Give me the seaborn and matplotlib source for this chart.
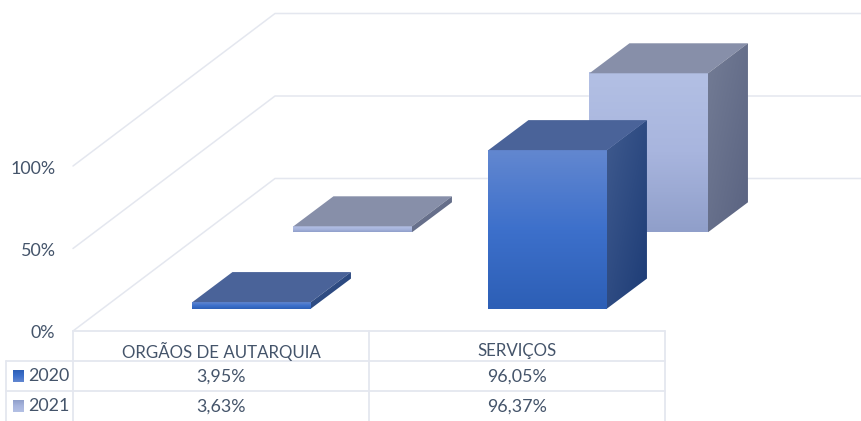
import numpy as np
import pandas as pd
import matplotlib
matplotlib.use('Agg')
import matplotlib.pyplot as plt
import seaborn as sns
from matplotlib.colors import LinearSegmentedColormap
from matplotlib.patches import Polygon

categories = ['ORGÃOS DE AUTARQUIA', 'SERVIÇOS']
series_names = ['2020', '2021']
values_2020 = [3.95, 96.05]
values_2021 = [3.63, 96.37]
tick_values = [0, 50, 100]

sns.set_style('white')
plt.rcParams['font.family'] = ['Lato', 'DejaVu Sans']

W, H = 862, 421
TXT = '#44546a'
GRID = '#e4e7ef'
PX_PER_PCT = 1.65
SLOT = 296
BAR_W = 118.5
DEPTH_X, DEPTH_Y = 40, 30

front_2020 = LinearSegmentedColormap.from_list('f20', ['#6287d0', '#3d70cb', '#2d5fb6'])
side_2020 = LinearSegmentedColormap.from_list('s20', ['#3f5a8e', '#1d3c76'])
front_2021 = LinearSegmentedColormap.from_list('f21', ['#b3c0e4', '#a8b5de', '#909fca'])
side_2021 = LinearSegmentedColormap.from_list('s21', ['#737c95', '#5a6381'])
gradient = np.linspace(0, 1, 64).reshape(-1, 1)
diag = np.add.outer(np.linspace(0, 1, 64), np.linspace(0, 1, 64)) / 2

fig = plt.figure(figsize=(W / 100, H / 100), dpi=100)

# pixel axes for the walls and the table
base = fig.add_axes([0, 0, 1, 1])
base.set_xlim(0, W)
base.set_ylim(H, 0)
base.axis('off')

for t in tick_values:
    y_back = 178.5 - t * PX_PER_PCT
    y_front = 331 - t * PX_PER_PCT
    base.plot([73, 275, W], [y_front, y_back, y_back], color=GRID, lw=1.1)
    base.text(55.5, y_front + 2.5, f'{t}%', ha='right', va='center', color=TXT, fontsize=12.9)


def draw_series(values, x0, y0, front, side, top_color, z):
    ax = fig.add_axes([0, 0, 1, 1], zorder=z)
    ax.patch.set_alpha(0)
    df = pd.DataFrame({'cat': categories, 'val': values})
    sns.barplot(data=df, x='cat', y='val', ax=ax, width=BAR_W / SLOT, color='#4472c4', saturation=1)
    dx = DEPTH_X / SLOT
    dy = DEPTH_Y / PX_PER_PCT
    for bar in list(ax.patches):
        l, b = bar.get_x(), 0
        r, t = l + bar.get_width(), bar.get_height()
        ax.imshow(gradient, cmap=front, extent=(l, r, b, t), aspect='auto', origin='upper', zorder=3)
        ax.add_patch(Polygon([(l, t), (r, t), (r + dx, t + dy), (l + dx, t + dy)], fc=top_color, ec='none', zorder=4))
        side_poly = Polygon([(r, b), (r + dx, b + dy), (r + dx, t + dy), (r, t)], fc='none', ec='none', zorder=4)
        ax.add_patch(side_poly)
        im = ax.imshow(diag, cmap=side, extent=(r, r + dx, b, t + dy), aspect='auto', origin='upper', zorder=4)
        im.set_clip_path(side_poly)
    # one scale per series: category slots and percent to figure position
    ax.set_xlim(-x0 / SLOT, (W - x0) / SLOT)
    ax.set_ylim(-(H - y0) / PX_PER_PCT, y0 / PX_PER_PCT)
    ax.axis('off')
    return ax


draw_series(values_2021, 352.7, 232.3, front_2021, side_2021, '#878fa9', 2)
draw_series(values_2020, 251.7, 308.6, front_2020, side_2020, '#4a6399', 3)

# data table
for y, x_start in [(331, 73), (361, 6), (391, 6)]:
    base.plot([x_start, 665], [y, y], color=GRID, lw=1.3)
for x, y_start in [(6, 361), (73, 331), (369, 331), (665, 331)]:
    base.plot([x, x], [y_start, H], color=GRID, lw=1.3)

centers = [221, 517]
for c, label in zip(centers, categories):
    base.text(c, 351, label, ha='center', va='center', color=TXT, fontsize=12.2)

rows = [(376, series_names[0], values_2020, front_2020), (406, series_names[1], values_2021, front_2021)]
for y, name, vals, cmap in rows:
    base.imshow(gradient, cmap=cmap, extent=(13, 24, y + 6, y - 6), aspect='auto', origin='lower', zorder=3)
    base.text(28.5, y, name, ha='left', va='center', color=TXT, fontsize=12.9)
    for c, v in zip(centers, vals):
        base.text(c, y + 1, f'{v:.2f}%'.replace('.', ','), ha='center', va='center', color=TXT, fontsize=12.9)
base.set_xlim(0, W)
base.set_ylim(H, 0)

fig.savefig('out.png', dpi=100)
